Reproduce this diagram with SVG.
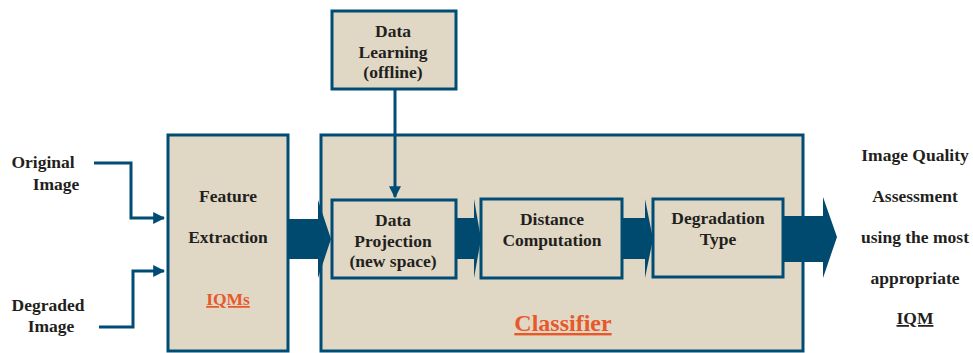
<svg xmlns="http://www.w3.org/2000/svg" width="973" height="353" viewBox="0 0 973 353">
  <defs>
    <style>
      .box { fill: #e0d8c4; stroke: #004c74; stroke-width: 3; }
      .big { fill: #004a70; }
      .wire { fill: none; stroke: #004c74; stroke-width: 3; }
    </style>
    <marker id="head" viewBox="0 0 10 10" refX="9" refY="5" markerWidth="4" markerHeight="4" orient="auto" markerUnits="strokeWidth">
      <path d="M0,0 L10,5 L0,10 Z" fill="#004c74"/>
    </marker>
  </defs>

  <rect width="973" height="353" fill="#ffffff"/>

  <g font-family="Liberation Serif" font-weight="bold" font-size="17.5" fill="#231f20" text-anchor="middle">
    <!-- input labels -->
    <g id="input-original">
      <text x="43" y="168">Original</text>
      <text x="56" y="190">Image</text>
    </g>
    <g id="input-degraded">
      <text x="48" y="311">Degraded</text>
      <text x="51" y="332">Image</text>
    </g>

    <!-- blocks -->
    <g id="feature-extraction">
      <rect class="box" x="168" y="135" width="120" height="216"/>
      <text x="228" y="202">Feature</text>
      <text x="228" y="243">Extraction</text>
      <text x="228" y="305" fill="#e8582b" text-decoration="underline">IQMs</text>
    </g>

    <g id="classifier">
      <rect class="box" x="321" y="135" width="482" height="216"/>
      <text x="563" y="331" font-size="24" fill="#e8582b" text-decoration="underline">Classifier</text>
    </g>

    <g id="data-learning">
      <rect class="box" x="332" y="11" width="124" height="78"/>
      <text x="393" y="37">Data</text>
      <text x="393" y="58">Learning</text>
      <text x="393" y="78">(offline)</text>
    </g>

    <g id="data-projection">
      <rect class="box" x="332" y="200" width="124" height="78"/>
      <text x="393" y="226">Data</text>
      <text x="393" y="247">Projection</text>
      <text x="393" y="267">(new space)</text>
    </g>

    <g id="distance-computation">
      <rect class="box" x="481" y="199" width="141" height="79"/>
      <text x="552" y="225">Distance</text>
      <text x="552" y="246">Computation</text>
    </g>

    <g id="degradation-type">
      <rect class="box" x="653" y="199" width="130" height="78"/>
      <text x="718" y="224">Degradation</text>
      <text x="718" y="245">Type</text>
    </g>

    <g id="output">
      <text x="915" y="161">Image Quality</text>
      <text x="915" y="202">Assessment</text>
      <text x="915" y="243">using the most</text>
      <text x="915" y="284">appropriate</text>
      <text x="915" y="324" text-decoration="underline">IQM</text>
    </g>
  </g>

  <!-- connectors -->
  <g id="connectors">
    <polyline class="wire" points="94,163 131,163 131,218 164,218" marker-end="url(#head)"/>
    <polyline class="wire" points="99,327 133,327 133,271 164,271" marker-end="url(#head)"/>
    <line class="wire" x1="395" y1="89" x2="395" y2="197" marker-end="url(#head)"/>

    <path class="big" d="M288,219 L318,219 L318,200 L331,239 L318,278 L318,259 L288,259 Z"/>
    <path class="big" d="M456,218 L474,218 L474,199 L481,239 L474,278 L474,259 L456,259 Z"/>
    <path class="big" d="M622,218 L645,218 L645,199 L653,239 L645,278 L645,259 L622,259 Z"/>
    <path class="big" d="M783,216 L823,216 L823,197 L837,237 L823,278 L823,262 L783,262 Z"/>
  </g>
</svg>
